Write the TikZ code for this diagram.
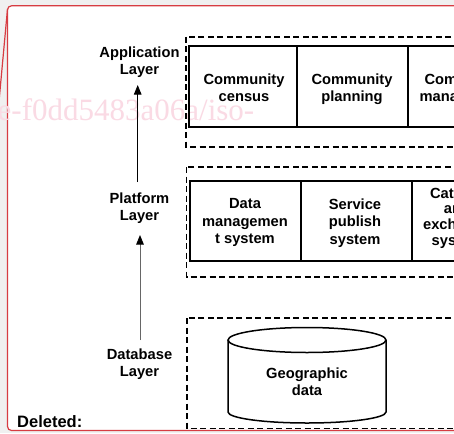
\documentclass[tikz,border=0pt]{standalone}
\usepackage{fontspec}
\setmainfont{Liberation Sans}
\newfontfamily\wmfont{Liberation Serif}
\usetikzlibrary{arrows.meta}
\definecolor{bggray}{RGB}{240,240,240}
\definecolor{framered}{RGB}{215,60,66}
\definecolor{wmpink}{RGB}{250,218,228}
\tikzset{
  lbl/.style={font=\bfseries\fontsize{14.7}{17.5}\selectfont, align=center, inner sep=0pt, anchor=north},
  grp/.style={draw=black, line width=1.3pt, dash pattern=on 6pt off 3.5pt},
  cellbox/.style={draw=black, line width=1.8pt},
  uparrow/.style={line width=0.9pt, -{Triangle[width=7.5pt,length=9.5pt,color=black]}},
}
\begin{document}
\begin{tikzpicture}[x=1pt,y=-1pt]
\useasboundingbox (0,0) rectangle (454,433);
\clip (0,0) rectangle (454,433);
\fill[bggray] (0,0) rectangle (454,433);
% comment frame
\draw[framered, line width=1.2pt, fill=white, rounded corners=4pt] (7.5,5.8) rectangle (475,430.5);
\draw[framered, line width=1.2pt] (7.5,9) -- (-0.6,97);
% watermark
\node[anchor=base west, inner sep=0pt, text=wmpink, font=\wmfont\fontsize{31}{31}\selectfont] (wm) at (-2.5,120.5) {e-f0dd5483a06a/iso-};
% group boxes
\draw[grp] (186,37) rectangle (560,147);
\draw[grp] (186.5,167) rectangle (560,277);
\draw[grp] (187,318) rectangle (560,428.5);
% application cells
\draw[cellbox] (189,46) rectangle (560,127);
\draw[cellbox] (297,46) -- (297,127);
\draw[black, line width=2.6pt] (408,46) -- (408,127);
\node[lbl] (census) at (244,73.3) {Community\\census};
\node[lbl] (planning) at (352,73.3) {Community\\planning};
\node[lbl] (manage) at (465,73.3) {Community\\management};
% platform cells
\draw[cellbox] (190,181) rectangle (560,261);
\draw[cellbox] (300.7,181) -- (300.7,261);
\draw[black, line width=2.3pt] (411.7,181) -- (411.7,261);
\node[lbl] (datamgmt) at (245,198.6) {Data\\managemen\\t system};
\node[lbl] (publish) at (355,198.6) {Service\\publish\\system};
\node[lbl, font=\bfseries\fontsize{14.7}{15.7}\selectfont] (catalog) at (457,187.3) {Catalog\\and\\exchange\\system};
% database cylinder
\draw[black, line width=1.5pt] (228,340) -- (228,412) arc[start angle=180, end angle=360, x radius=79pt, y radius=11pt] -- (386,340);
\draw[black, line width=1.5pt] (307,340) ellipse[x radius=79pt, y radius=12.5pt];
\node[lbl] (geo) at (307,367.3) {Geographic\\data};
% layer labels
\node[lbl] (applayer) at (139.5,46.3) {Application\\Layer};
\node[lbl] (platlayer) at (139.5,192.3) {Platform\\Layer};
\node[lbl] (dblayer) at (139.5,348.3) {Database\\Layer};
\coordinate (a1s) at (137.7,182);
\coordinate (a1e) at (137.7,85);
\coordinate (a2s) at (140,340);
\coordinate (a2e) at (140,235);
\draw[uparrow, black] (a1s) -- (a1e);
\draw[uparrow, black!60] (a2s) -- (a2e);
% deleted label
\node[anchor=base west, inner sep=0pt, font=\bfseries\fontsize{16.5}{16.5}\selectfont] (deleted) at (17,427) {Deleted:};
\end{tikzpicture}
\end{document}
